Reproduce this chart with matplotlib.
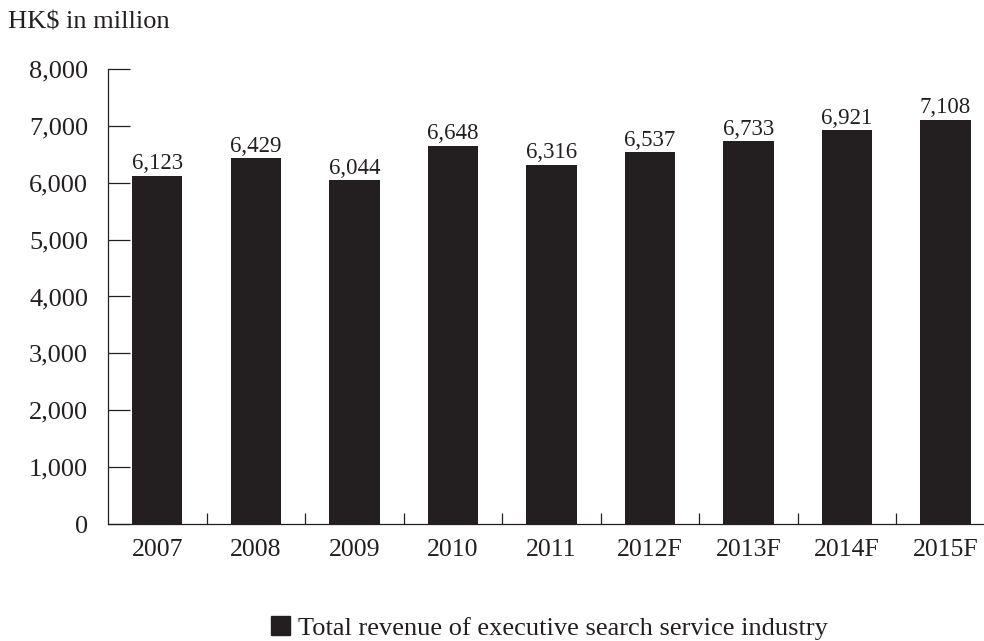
import matplotlib
matplotlib.use("Agg")
import matplotlib.pyplot as plt
from matplotlib.patches import Patch
from matplotlib.ticker import FixedLocator, FuncFormatter

years = ["2007", "2008", "2009", "2010", "2011", "2012F", "2013F", "2014F", "2015F"]
revenue = [6123, 6429, 6044, 6648, 6316, 6537, 6733, 6921, 7108]
yticks = [0, 1000, 2000, 3000, 4000, 5000, 6000, 7000, 8000]
unit_label = "HK$ in million"
series_label = "Total revenue of executive search service industry"

bar_color = "#231f20"
text_color = "#231f20"
plt.rcParams["font.family"] = ["Liberation Serif", "DejaVu Serif"]

fig = plt.figure(figsize=(9.84, 6.41), dpi=100)
ax = fig.add_axes([0.1098, 0.1825, 0.8902, 0.7099])

x = list(range(len(years)))
bars = ax.bar(x, revenue, width=0.51, color=bar_color, zorder=2)

for xi, v in zip(x, revenue):
    ax.annotate(f"{v:,}", (xi, v), xytext=(0, 1), textcoords="offset points",
                ha="center", va="bottom", fontsize=16.5, color=text_color)

ax.set_xlim(-0.5, 8.39)
ax.set_ylim(0, 8000)

ax.set_yticks(yticks)
ax.yaxis.set_major_formatter(FuncFormatter(lambda v, p: f"{int(v):,}"))
ax.tick_params(axis="y", direction="in", length=15.8, width=0.9, pad=14.4,
               labelsize=19, colors=text_color)

ax.set_xticks(x)
ax.set_xticklabels(years)
ax.tick_params(axis="x", which="major", length=0, pad=11, labelsize=18.5,
               colors=text_color)
ax.xaxis.set_minor_locator(FixedLocator([i + 0.5 for i in range(len(years) - 1)]))
ax.tick_params(axis="x", which="minor", direction="in", length=8, width=0.9,
               color=text_color)

for side in ("top", "right"):
    ax.spines[side].set_visible(False)
for side in ("left", "bottom"):
    ax.spines[side].set_linewidth(0.9)
    ax.spines[side].set_color(text_color)

fig.text(0.008, 0.965, unit_label, fontsize=19, color=text_color,
         ha="left", va="center")

handle = Patch(facecolor=bar_color, edgecolor=bar_color)
fig.legend([handle], [series_label], loc="center", bbox_to_anchor=(0.558, 0.02),
           frameon=False, fontsize=19, handlelength=0.72, handleheight=0.72,
           handletextpad=0.3, borderpad=0, borderaxespad=0, labelcolor=text_color)

fig.savefig("out.png", dpi=100)
